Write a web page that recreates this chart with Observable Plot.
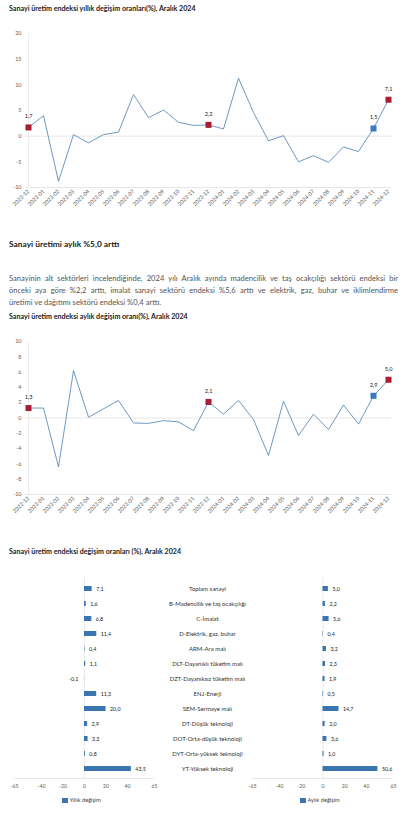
<!DOCTYPE html>
<html><head><meta charset="utf-8">
<script src="https://cdn.jsdelivr.net/npm/d3@7"></script>
<script src="https://cdn.jsdelivr.net/npm/@observablehq/plot@0.6"></script>
<style>
body{margin:0;background:#fff;}
#page{position:relative;width:412px;height:826px;overflow:hidden;font-family:Lato,"Noto Sans",sans-serif;background:#fff;}
.abs{position:absolute;}
.ctitle{font-weight:bold;font-size:7.1px;color:#1a1a1a;white-space:nowrap;line-height:8px;}
.head{font-weight:bold;font-size:8.4px;color:#1a1a1a;white-space:nowrap;line-height:10px;}
.para{font-size:7.6px;color:#555;width:389px;line-height:9px;white-space:nowrap;}
.j{text-align:justify;text-align-last:justify;}
.leg{font-size:5.6px;color:#444;white-space:nowrap;line-height:7px;}
.leg i{display:inline-block;width:5.5px;height:5.5px;background:#3a75b0;vertical-align:-1px;margin-right:2px;}
</style></head><body><div id="page">
<div class="abs ctitle" style="left:9px;top:5px">Sanayi üretim endeksi yıllık değişim oranları(%), Aralık 2024</div>
<div id="c1" class="abs" style="left:0;top:20px"></div>
<div class="abs head" style="left:9px;top:239px">Sanayi üretimi aylık %5,0 arttı</div>
<div class="abs para j" style="left:9px;top:273.5px">Sanayinin alt sektörleri incelendiğinde, 2024 yılı Aralık ayında madencilik ve taş ocakçılığı sektörü endeksi bir</div>
<div class="abs para j" style="left:9px;top:286px">önceki aya göre %2,2 arttı, imalat sanayi sektörü endeksi %5,6 arttı ve elektrik, gaz, buhar ve iklimlendirme</div>
<div class="abs para" style="left:9px;top:297.5px">üretimi ve dağıtımı sektörü endeksi %0,4 arttı.</div>
<div class="abs ctitle" style="left:9px;top:313px">Sanayi üretim endeksi aylık değişim oranı(%), Aralık 2024</div>
<div id="c2" class="abs" style="left:0;top:325px"></div>
<div class="abs ctitle" style="left:9px;top:548px">Sanayi üretim endeksi değişim oranları (%), Aralık 2024</div>
<div id="c3" class="abs" style="left:0;top:570px"></div>
<div id="c4" class="abs" style="left:230px;top:570px"></div>
<div class="abs leg" style="left:62px;top:796px"><i></i>Yıllık değişim</div>
<div class="abs leg" style="left:300px;top:796px"><i></i>Aylık değişim</div>
</div>
<script>
const months = ["2022-12","2023-01","2023-02","2023-03","2023-04","2023-05","2023-06","2023-07","2023-08","2023-09","2023-10","2023-11","2023-12","2024-01","2024-02","2024-03","2024-04","2024-05","2024-06","2024-07","2024-08","2024-09","2024-10","2024-11","2024-12"];
const yearlyChange = [1.7,4.0,-8.8,0.3,-1.3,0.3,0.8,8.1,3.6,5.1,2.7,2.1,2.2,1.4,11.3,4.6,-0.9,0.1,-5.0,-3.8,-5.1,-2.1,-3.0,1.5,7.1];
const monthlyChange = [1.3,1.3,-6.4,6.2,0.1,1.2,2.3,-0.65,-0.7,-0.35,-0.5,-1.65,2.1,0.5,2.3,-0.2,-4.9,2.2,-2.3,0.5,-1.5,1.7,-0.8,2.9,5.0];
const yearlyTicks = [-10,-5,0,5,10,15,20];
const monthlyTicks = [-10,-8,-6,-4,-2,0,2,4,6,8,10];
const redMonths = ["2022-12","2023-12","2024-12"];
const blueMonths = ["2024-11"];

const categories = ["Toplam sanayi","B-Madencilik ve taş ocakçılığı","C-İmalat","D-Elektrik, gaz, buhar","ARM-Ara malı","DLT-Dayanıklı tüketim malı","DZT-Dayanıksız tüketim malı","ENJ-Enerji","SEM-Sermaye malı","DT-Düşük teknoloji","DOT-Orta-düşük teknoloji","DYT-Orta-yüksek teknoloji","YT-Yüksek teknoloji"];
const yearlyBySector = [7.1,1.6,6.8,11.4,0.4,1.1,-0.1,11.3,20.0,2.9,3.3,0.8,43.5];
const monthlyBySector = [5.0,2.2,5.6,0.4,3.2,2.3,1.9,0.5,14.7,2.0,3.6,1.0,50.6];
const sectorTicks = [-65,-40,-20,0,20,40,65];

const FONT = "Lato, 'Noto Sans', sans-serif";
const LINE = "#4a7db3", RED = "#a81d2f", BLUE = "#3b7bbb", BAR = "#3a75b0", GRID = "#dcdcdc";
const fmt = v => v.toFixed(1).replace(".", ",");

function lineChart(vals, yTicks, mt, innerH) {
  const data = months.map((m, i) => ({m, v: vals[i]}));
  const pick = list => list.map(m => ({m, v: vals[months.indexOf(m)]}));
  const reds = pick(redMonths), blues = pick(blueMonths);
  return Plot.plot({
    width: 412, height: mt + innerH + 28,
    marginLeft: 25, marginRight: 21, marginTop: mt, marginBottom: 28,
    x: {type: "point", domain: months, padding: 0, tickRotate: -45, tickSize: 0, tickPadding: 3, label: null},
    y: {domain: [yTicks[0], yTicks[yTicks.length - 1]], ticks: yTicks, tickSize: 0, tickPadding: 4, tickFormat: d => String(d), label: null},
    style: {fontFamily: FONT, fontSize: "5.4px", color: "#606060", background: "transparent", overflow: "visible"},
    marks: [
      Plot.ruleX([months[0]], {stroke: "#e6e6e6", strokeWidth: 0.7}),
      Plot.ruleY([yTicks[0]], {stroke: GRID, strokeWidth: 0.7}),
      Plot.ruleY([0], {stroke: GRID, strokeWidth: 0.7}),
      Plot.line(data, {x: "m", y: "v", stroke: LINE, strokeWidth: 0.8}),
      Plot.dot(reds, {x: "m", y: "v", symbol: "square", r: 3.4, fill: RED}),
      Plot.dot(blues, {x: "m", y: "v", symbol: "square", r: 3.4, fill: BLUE}),
      Plot.text(reds.concat(blues), {x: "m", y: "v", text: d => fmt(d.v), dy: -11, fontSize: 5.6, fill: "#222"})
    ]
  });
}

function sectorChart(values, width, ml, mr, withLabels) {
  const data = categories.map((c, i) => ({c, v: values[i]}));
  const marks = [
    Plot.ruleX([0], {stroke: GRID, strokeWidth: 0.6}),
    Plot.barX(data, {x: "v", y: "c", fill: BAR}),
    Plot.text(data.filter(d => d.v >= 0), {x: "v", y: "c", text: d => fmt(d.v), dx: 4, textAnchor: "start", fontSize: 5.3, fill: "#222"}),
    Plot.text(data.filter(d => d.v < 0), {x: "v", y: "c", text: d => fmt(d.v), dx: -6, textAnchor: "end", fontSize: 5.3, fill: "#222"})
  ];
  if (withLabels) marks.push(Plot.text(categories, {y: d => d, text: d => d, frameAnchor: "right", dx: 53, textAnchor: "middle", fontSize: 6, fill: "#333"}));
  const p = Plot.plot({
    width, height: 223, marginLeft: ml, marginRight: mr, marginTop: 7.7, marginBottom: 14.5,
    x: {domain: [-65, 65], ticks: sectorTicks, tickFormat: d => String(d), tickSize: 0, tickPadding: 5, label: null},
    y: {domain: categories, paddingInner: 0.68, paddingOuter: 0.36, axis: null},
    style: {fontFamily: FONT, fontSize: "5.2px", color: "#606060", background: "transparent", overflow: "visible"},
    marks
  });
  const sx = p.scale("x"), sy = p.scale("y");
  d3.select(p).append("line")
    .attr("x1", sx.range[0]).attr("x2", sx.range[1])
    .attr("y1", sy.range[1]).attr("y2", sy.range[1])
    .attr("stroke", GRID).attr("stroke-width", 0.7);
  return p;
}

document.getElementById("c1").append(lineChart(yearlyChange, yearlyTicks, 13, 154));
document.getElementById("c2").append(lineChart(monthlyChange, monthlyTicks, 16, 153));
document.getElementById("c3").append(sectorChart(yearlyBySector, 260, 14, 106, true));
document.getElementById("c4").append(sectorChart(monthlyBySector, 182, 22, 19, false));
</script></body></html>
